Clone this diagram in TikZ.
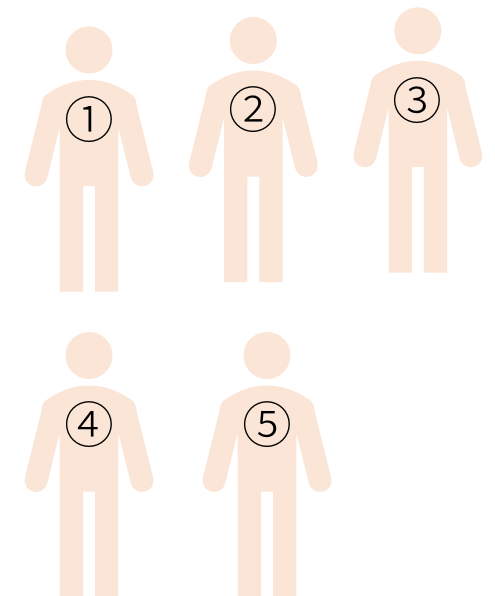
\documentclass[tikz,border=0pt]{standalone}
\usepackage{fontspec}
\newfontfamily\numfont{Noto Sans CJK JP Light}
\definecolor{skin}{RGB}{251,229,214}
\tikzset{numlabel/.style={inner sep=0pt, font=\numfont\fontsize{50}{50}\selectfont}}
\newcommand{\personfig}[4]{%
  \begin{scope}[shift={(#1,#2)}]
    \fill[skin] (89,-50) circle (23.5);
    \fill[skin] (59.7,-291.7) -- (59.7,-127) -- (47.2,-177.8)
      arc[start angle=-14, end angle=-194, radius=11.5]
      -- (41.5,-105) .. controls (42.3,-100) and (42.5,-98) .. (45,-95.5)
      .. controls (60,-85) and (74,-80) .. (89,-80)
      .. controls (104,-80) and (118,-85) .. (133,-95.5)
      .. controls (135.5,-98) and (135.7,-100) .. (136.5,-105)
      -- (153.2,-172.2)
      arc[start angle=14, end angle=-166, radius=11.5]
      -- (118.3,-127) -- (118.3,-291.7) -- (95,-291.7) -- (95,-186) -- (83,-186) -- (83,-291.7) -- cycle;
    \node[numlabel] (#3) at (89,-119.3) {#4};
  \end{scope}}
\begin{document}
\begin{tikzpicture}[x=1bp,y=1bp]
\useasboundingbox (0,0) rectangle (495,-596);
\personfig{0}{0}{a}{①}
\personfig{164.3}{9.5}{b}{②}
\personfig{328.8}{19.2}{c}{③}
\personfig{0}{-305.5}{d}{④}
\personfig{178}{-305.5}{e}{⑤}
\end{tikzpicture}
\end{document}
